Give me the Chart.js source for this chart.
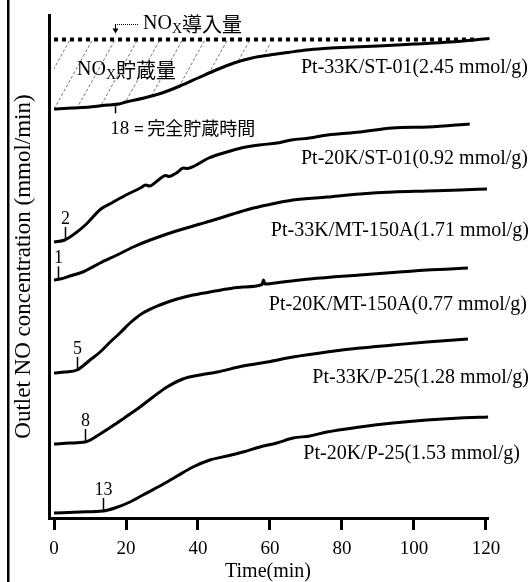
<!DOCTYPE html>
<html>
<head>
<meta charset="utf-8">
<script src="https://cdn.jsdelivr.net/npm/chart.js@4.4.1/dist/chart.umd.min.js"></script>
<style>
  html, body { margin: 0; padding: 0; background: #fff; }
  #wrap { width: 531px; height: 582px; }
</style>
</head>
<body>
<div id="wrap"><canvas id="chart" width="531" height="582"></canvas></div>
<script>
// x axis ticks (min)
const xTicks = [0, 20, 40, 60, 80, 100, 120];

// curve labels, top to bottom
const seriesLabels = [
  "Pt-33K/ST-01(2.45 mmol/g)",
  "Pt-20K/ST-01(0.92 mmol/g)",
  "Pt-33K/MT-150A(1.71 mmol/g)",
  "Pt-20K/MT-150A(0.77 mmol/g)",
  "Pt-33K/P-25(1.28 mmol/g)",
  "Pt-20K/P-25(1.53 mmol/g)"
];

// each curve is drawn with its own vertical offset (arbitrary units)
const timeA = [0, 5, 10, 15, 18, 20, 25, 30, 35, 40, 45, 50, 55, 60, 65, 70, 75, 80, 90, 100, 110, 121];
const valA  = [40.9, 41.0, 41.1, 41.3, 41.4, 41.6, 42.0, 42.5, 43.2, 44.0, 44.8, 45.5, 46.0, 46.3, 46.55, 46.8, 46.95, 47.05, 47.2, 47.4, 47.6, 47.95];

const timeB = [0, 3, 6, 9, 13, 16, 20, 24, 25.5, 26.5, 29, 31, 32, 34, 36, 37, 39, 43, 48, 52, 57, 62, 66, 71, 76, 85, 94, 104, 115.5];
const valB  = [27.6, 27.8, 28.5, 29.4, 30.9, 31.5, 32.3, 33.0, 33.3, 33.2, 33.8, 34.25, 34.15, 34.5, 35.0, 34.95, 35.2, 36.0, 36.6, 37.0, 37.3, 37.5, 37.8, 38.0, 38.3, 38.6, 39.0, 39.1, 39.4];

const timeC = [0, 1.7, 4.4, 8, 12.8, 17.5, 22, 26.7, 31.4, 35.8, 40.6, 45.3, 49.7, 54.4, 59.2, 66.4, 75.8, 85, 94.2, 103.6, 112.8, 120.3];
const valC  = [23.8, 23.9, 24.2, 24.6, 25.5, 26.3, 27.1, 27.8, 28.4, 28.9, 29.4, 29.9, 30.4, 30.9, 31.3, 31.8, 32.1, 32.4, 32.6, 32.7, 32.8, 32.9];

const timeD = [0, 3, 6.4, 10, 12.8, 15.6, 18.3, 21.1, 24.7, 29.4, 34.2, 38.6, 43.3, 48.1, 52.5, 57.8, 58.2, 58.6, 63.6, 71.1, 85, 96, 103.6, 115];
const valD  = [14.5, 14.6, 14.8, 15.8, 16.6, 17.6, 18.5, 19.5, 20.5, 21.3, 21.9, 22.3, 22.6, 22.9, 23.1, 23.35, 23.8, 23.4, 23.6, 23.9, 24.3, 24.6, 24.8, 25.0];

const timeE = [0, 4.4, 8.6, 12.8, 17.5, 21.1, 23.9, 27.5, 31.4, 35.8, 40.6, 45.3, 52.5, 59.2, 66.4, 75.8, 85, 94.2, 103.6, 115];
const valE  = [7.4, 7.5, 7.6, 8.4, 9.5, 10.4, 11.1, 12.1, 13.1, 13.9, 14.3, 14.6, 15.2, 15.6, 16.1, 16.6, 17.0, 17.3, 17.6, 17.9];

const timeF = [0, 7.2, 13.6, 16.9, 21.1, 24.7, 29.4, 34.2, 38.6, 43.3, 48.1, 52.5, 57.2, 61.9, 66.4, 71.1, 75.8, 85, 94.2, 103.6, 112.8, 120.6];
const valF  = [0.5, 0.6, 0.7, 1.0, 1.6, 2.3, 3.2, 4.2, 5.1, 5.8, 6.2, 6.6, 7.1, 7.5, 8.0, 8.2, 8.6, 9.1, 9.5, 9.8, 10.0, 10.1];

// complete storage (breakthrough) times marked on each curve
const markTimes  = [17, 3, 1.1, 6.4, 8.6, 13.6];
const markLabels = ["18", "2", "1", "5", "8", "13"];

// NOx feed level (dotted line) and the hatched stored area
const noxFeedLevel = 47.85;
const noxFeedTimes = [0, 117];
const hatchUntil = 60;

const curves = [
  { t: timeA, v: valA }, { t: timeB, v: valB }, { t: timeC, v: valC },
  { t: timeD, v: valD }, { t: timeE, v: valE }, { t: timeF, v: valF }
];

const SERIF = '"Liberation Serif", "Times New Roman", serif';
const SANS = '"Noto Sans CJK JP", "Noto Sans", sans-serif';

function valueAt(c, t) {
  for (let i = 1; i < c.t.length; i++) {
    if (t <= c.t[i]) {
      const f = (t - c.t[i - 1]) / (c.t[i] - c.t[i - 1]);
      return c.v[i - 1] + f * (c.v[i] - c.v[i - 1]);
    }
  }
  return c.v[c.v.length - 1];
}

const datasets = curves.map((c, i) => ({
  label: seriesLabels[i],
  data: c.t.map((t, j) => ({ x: t, y: c.v[j] })),
  borderColor: "#000",
  borderWidth: 3,
  pointRadius: 0,
  cubicInterpolationMode: "monotone",
  clip: false
}));

datasets.push({
  label: "NOx feed",
  data: noxFeedTimes.map(t => ({ x: t, y: noxFeedLevel })),
  borderColor: "#000",
  borderWidth: 4,
  borderDash: [4, 4],
  borderCapStyle: "butt",
  pointRadius: 0,
  clip: false
});

// hatched area between feed line and first curve
const hatchPlugin = {
  id: "hatch",
  beforeDatasetsDraw(chart) {
    const { ctx } = chart;
    const xs = chart.scales.x, ys = chart.scales.y;
    const c = curves[0];
    const yTop = ys.getPixelForValue(noxFeedLevel);
    const pts = [];
    for (let i = 0; i < c.t.length && c.t[i] <= hatchUntil; i++) {
      pts.push([xs.getPixelForValue(c.t[i]), ys.getPixelForValue(c.v[i])]);
    }
    const x0 = xs.getPixelForValue(0);
    const x1 = xs.getPixelForValue(hatchUntil);
    const yBot = Math.max(...pts.map(p => p[1]));
    ctx.save();
    ctx.beginPath();
    ctx.moveTo(x0, yTop);
    ctx.lineTo(x1, yTop);
    for (let i = pts.length - 1; i >= 0; i--) ctx.lineTo(pts[i][0], pts[i][1]);
    ctx.closePath();
    ctx.clip();
    ctx.strokeStyle = "#777";
    ctx.lineWidth = 1;
    ctx.setLineDash([3, 2]);
    const slope = 1.8, step = 22.5;
    const h = yBot - yTop;
    for (let k = -12; k < 20; k++) {
      const bx = x0 + k * step;
      ctx.beginPath();
      ctx.moveTo(bx, yBot);
      ctx.lineTo(bx + h / slope, yTop);
      ctx.stroke();
    }
    ctx.restore();
  }
};

// texts, arrow and storage-time marks
const notesPlugin = {
  id: "notes",
  afterDraw(chart) {
    const { ctx } = chart;
    const xs = chart.scales.x, ys = chart.scales.y;
    ctx.save();
    ctx.fillStyle = "#000";
    ctx.strokeStyle = "#000";

    // left frame line of the figure
    ctx.fillRect(7, 0, 2.5, chart.height);

    // curve names
    const labelPos = [[528, 68], [528, 159], [529, 231], [527, 305], [529, 378], [520, 454]];
    ctx.font = "20px " + SERIF;
    ctx.textAlign = "right";
    ctx.textBaseline = "middle";
    seriesLabels.forEach((s, i) => ctx.fillText(s, labelPos[i][0], labelPos[i][1]));

    // storage-time ticks
    ctx.lineWidth = 1.5;
    ctx.font = "18px " + SERIF;
    ctx.textAlign = "center";
    markTimes.forEach((t, i) => {
      const px = Math.round(xs.getPixelForValue(t)) + 0.5;
      const py = ys.getPixelForValue(valueAt(curves[i], t));
      ctx.beginPath();
      if (i === 0) {
        ctx.moveTo(px, py + 2);
        ctx.lineTo(px, py + 9);
      } else {
        ctx.moveTo(px, py - 1);
        ctx.lineTo(px, py - 13);
        ctx.stroke();
        ctx.textBaseline = "bottom";
        ctx.fillText(markLabels[i], px, py - 12);
        return;
      }
      ctx.stroke();
    });

    // "18 = 完全貯蔵時間"
    const mx = xs.getPixelForValue(markTimes[0]);
    ctx.textAlign = "left";
    ctx.textBaseline = "middle";
    ctx.font = "19px " + SERIF;
    ctx.fillText(markLabels[0], mx - 5, 129);
    ctx.font = "17px " + SANS;
    ctx.fillText("=", mx + 19, 129);
    ctx.font = "18px " + SANS;
    ctx.fillText("完全貯蔵時間", mx + 32, 128);

    // NOx annotations
    function noxText(x, y, tail) {
      ctx.font = "20px " + SERIF;
      ctx.textAlign = "left";
      ctx.textBaseline = "middle";
      ctx.fillText("NO", x, y);
      const w = ctx.measureText("NO").width;
      ctx.font = "14px " + SERIF;
      ctx.fillText("X", x + w, y + 5);
      const w2 = ctx.measureText("X").width;
      ctx.font = "20px " + SANS;
      ctx.fillText(tail, x + w + w2, y);
    }
    noxText(143, 24, "導入量");
    noxText(77, 70, "貯蔵量");

    // small arrow pointing at the feed line
    const ay = ys.getPixelForValue(noxFeedLevel);
    ctx.lineWidth = 1;
    ctx.setLineDash([1, 1]);
    ctx.beginPath();
    ctx.moveTo(117, 24.5);
    ctx.lineTo(138, 24.5);
    ctx.stroke();
    ctx.setLineDash([]);
    ctx.beginPath();
    ctx.moveTo(115.5, 24);
    ctx.lineTo(115.5, ay - 10);
    ctx.stroke();
    ctx.beginPath();
    ctx.moveTo(112.5, ay - 11);
    ctx.lineTo(118.5, ay - 11);
    ctx.lineTo(115.5, ay - 6);
    ctx.closePath();
    ctx.fill();

    ctx.restore();
  }
};

new Chart(document.getElementById("chart"), {
  type: "line",
  data: { datasets },
  options: {
    responsive: false,
    devicePixelRatio: 1,
    animation: false,
    layout: { padding: { left: 0, right: 44, top: 15, bottom: 0 } },
    plugins: { legend: { display: false }, tooltip: { enabled: false } },
    scales: {
      x: {
        type: "linear",
        min: -1.4,
        max: 120.3,
        afterBuildTicks: s => { s.ticks = xTicks.map(v => ({ value: v })); },
        afterFit: s => { s.height = 64; },
        ticks: { color: "#000", font: { family: SERIF, size: 19 }, padding: 8, maxRotation: 0 },
        grid: { drawOnChartArea: false, drawTicks: true, tickLength: 12, color: "#000", lineWidth: 3 },
        border: { color: "#000", width: 3 },
        title: { display: true, text: "Time(min)", color: "#000", font: { family: SERIF, size: 20, lineHeight: 1 }, padding: 0 }
      },
      y: {
        type: "linear",
        min: 0,
        max: 50.3,
        afterFit: s => { s.width = 49; },
        ticks: { display: false },
        grid: { drawOnChartArea: false, drawTicks: false },
        border: { color: "#000", width: 3 },
        title: { display: true, text: "Outlet NO concentration (mmol/min)", color: "#000", font: { family: SERIF, size: 23, lineHeight: 1.2 }, padding: { top: 10, bottom: 0 } }
      }
    }
  },
  plugins: [hatchPlugin, notesPlugin]
});
</script>
</body>
</html>
